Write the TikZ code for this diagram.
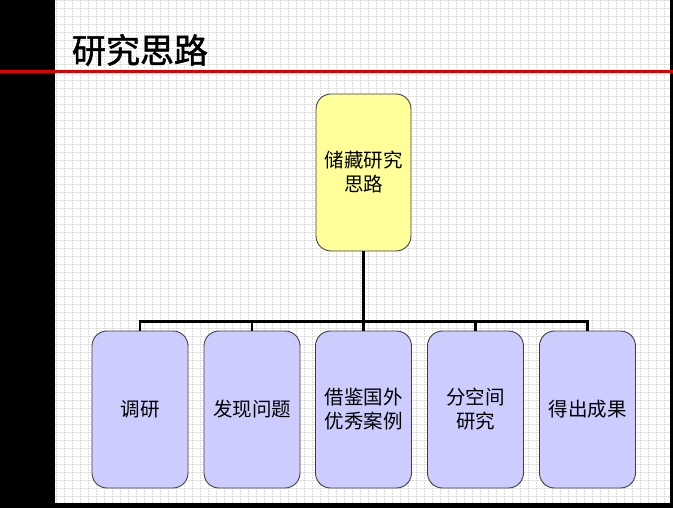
\documentclass[tikz,border=0pt]{standalone}
\usepackage{fontspec}
\newfontfamily\cjk{Noto Sans CJK SC}
\newfontfamily\cjkhead[FakeBold=1.5]{Noto Sans CJK SC}
\usepackage{xcolor}
\usetikzlibrary{positioning}

\definecolor{boxyellow}{HTML}{FFFF99}
\definecolor{boxblue}{HTML}{CCCCFF}
\definecolor{titlered}{HTML}{E00000}

\begin{document}
\begin{tikzpicture}[
      x=1pt, y=-1pt,
      rootbox/.style={rectangle, rounded corners=15pt, draw=black!75, line width=0.9pt,
          fill=boxyellow, align=center, text centered,
          minimum width=95pt, minimum height=157pt,
          font=\cjk\fontsize{19.5}{24}\selectfont},
      leafbox/.style={rectangle, rounded corners=15pt, draw=black!75, line width=0.9pt,
          fill=boxblue, align=center, text centered,
          minimum width=96pt, minimum height=157pt,
          font=\cjk\fontsize{19.5}{24}\selectfont},
      link/.style={line width=2.3pt, black},
      heading/.style={font=\cjkhead\fontsize{34}{38}\selectfont, inner sep=0pt}
    ]
    \useasboundingbox (0,0) rectangle (673,508);
    % page background and frame
    \fill[white] (0,0) rectangle (673,508);
    \draw[gray!30, densely dotted, line width=0.6pt, step=8pt]
        (55pt,-503pt) grid (670pt,0pt);
    \fill[black] (0,0) rectangle (55,508);
    \fill[black] (0,503) rectangle (673,508);
    \fill[black] (670,0) rectangle (673,508);
    \draw[titlered, line width=3pt] (0,72) -- (673,72);

    \node[heading] (title) at (140,50) {研究思路};

    \node[rootbox] (root) at (363.5,172.5) {储藏研究\\思路};

    \node[leafbox] (survey) at (140,409.5) {调研};
    \node[leafbox] (issue) at (252,409.5) {发现问题};
    \node[leafbox] (cases) at (363.5,409.5) {借鉴国外\\优秀案例};
    \node[leafbox] (space) at (475.5,409.5) {分空间\\研究};
    \node[leafbox] (result) at (587.5,409.5) {得出成果};

    \coordinate (bus) at (363.5,322);
    \draw[link] (root.south) -- (bus);
    \draw[link] (survey.north) -- ++(0,-9) -| (result.north);
    \draw[link] (issue.north) -- ++(0,-9);
    \draw[link] (cases.north) -- ++(0,-9);
    \draw[link] (space.north) -- ++(0,-9);
  \end{tikzpicture}
\end{document}
